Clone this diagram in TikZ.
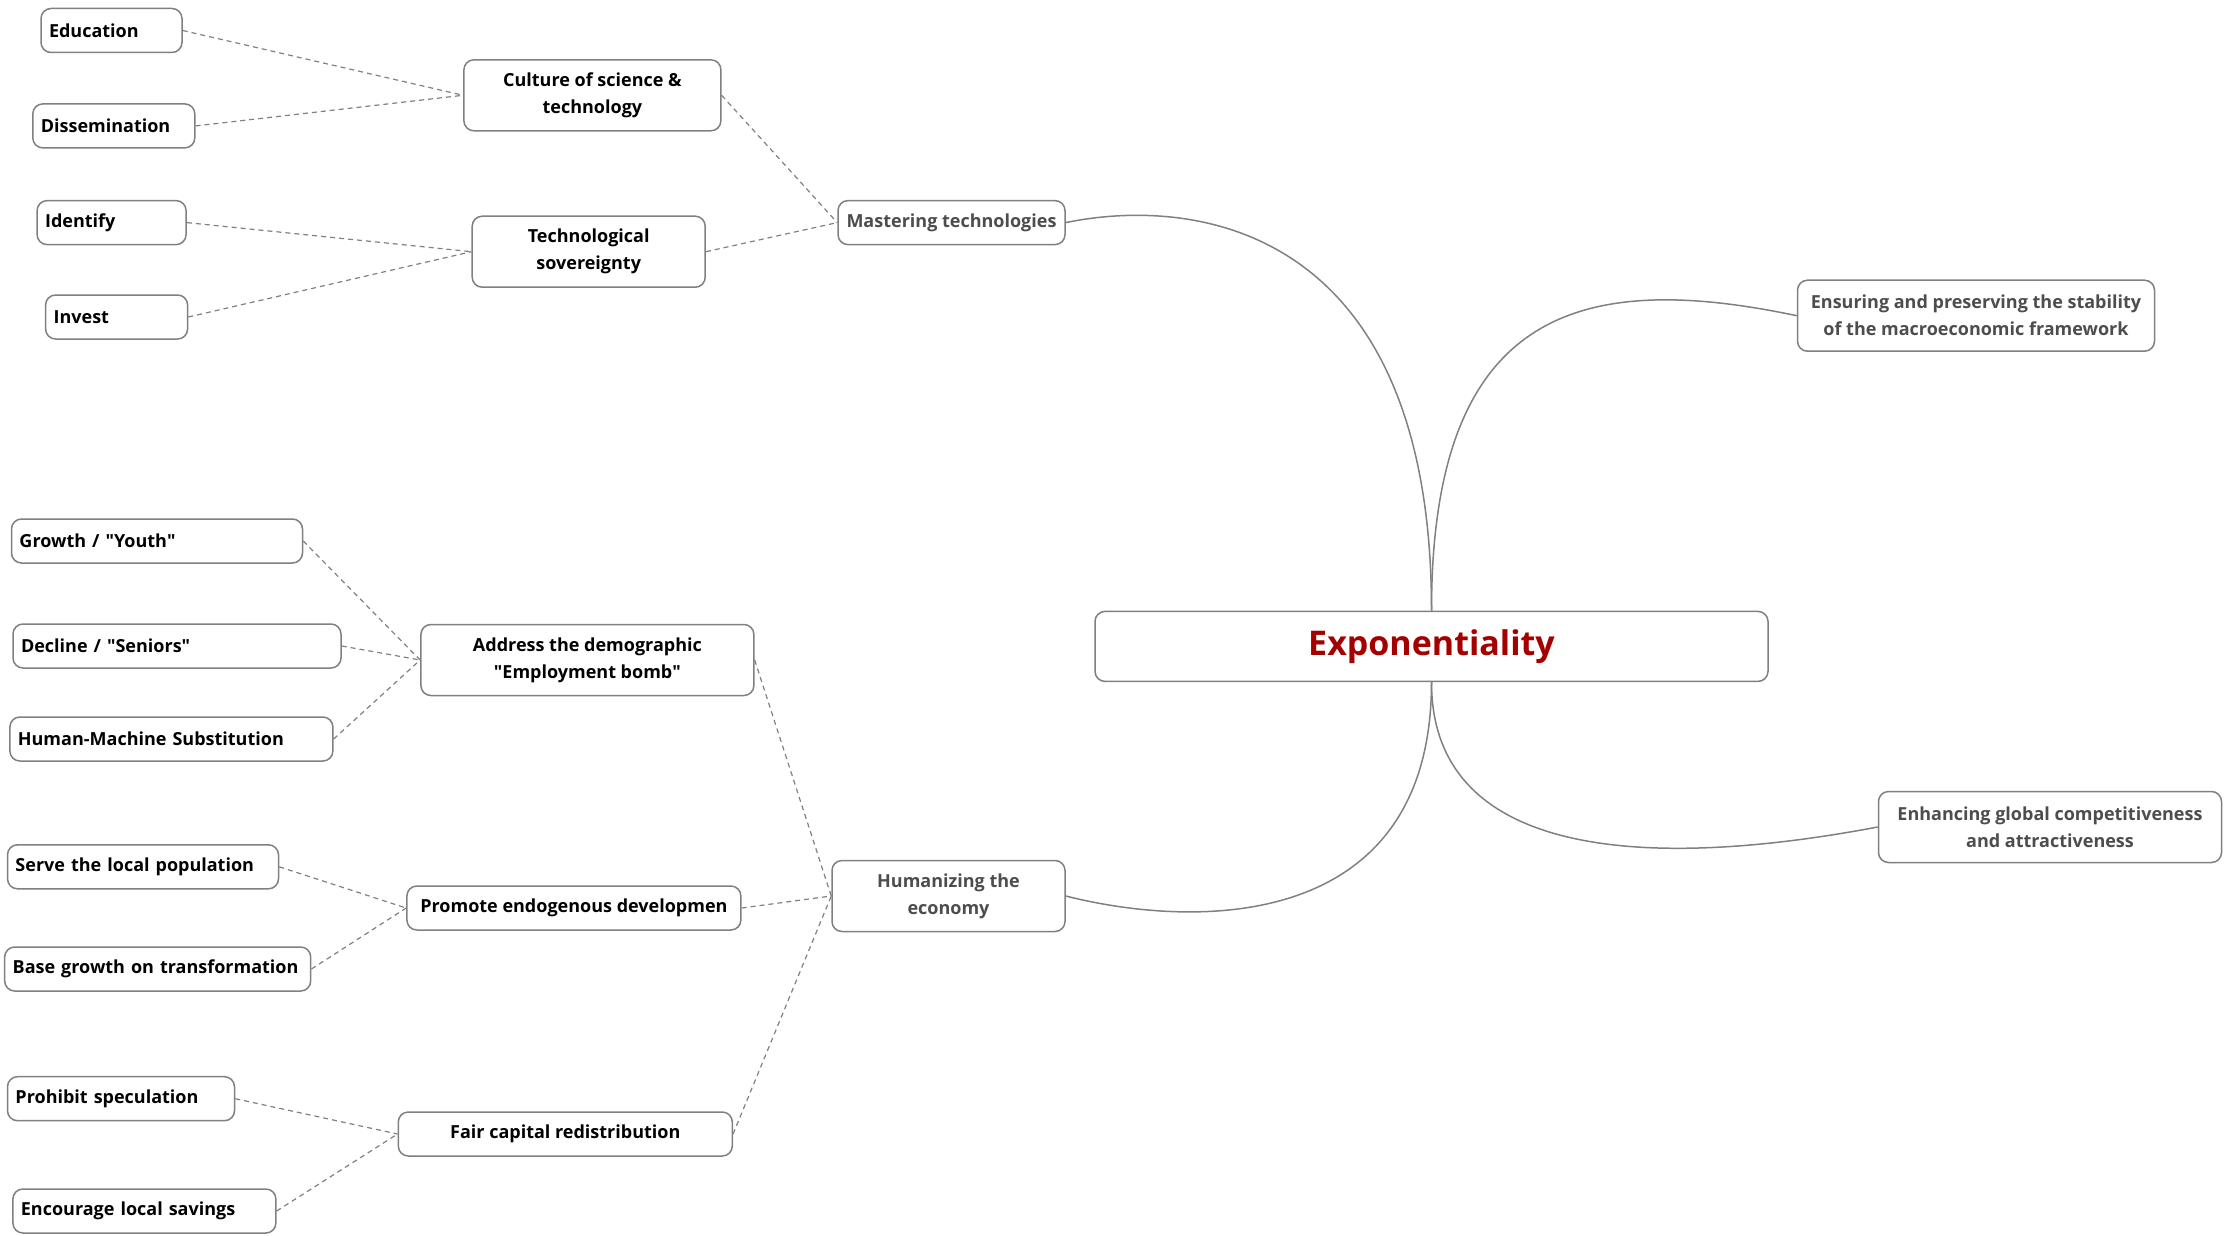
\documentclass[tikz,border=0pt]{standalone}
\usepackage{fontspec}
\setmainfont{Open Sans}
\usetikzlibrary{positioning}
\definecolor{MapGray}{HTML}{808080}
\definecolor{MapDark}{HTML}{4D4D4D}
\definecolor{MapRed}{HTML}{A50000}
\newcommand{\dq}{\textquotedbl}

\begin{document}
\begin{tikzpicture}[
    x=1pt, y=-1pt,
    box/.style={draw=MapGray, line width=1.5pt, rounded corners=10pt, fill=white, inner xsep=8pt, inner ysep=0pt, minimum height=44pt, font=\bfseries\fontsize{18}{27}\selectfont},
    leaf/.style={box, text width=#1, align=left},
    topic/.style={box, minimum width=#1, align=center},
    branch/.style={box, minimum width=#1, align=center, text=MapDark},
    twoline/.style={minimum height=71pt},
    link/.style={draw=MapGray, line width=1.2pt, dash pattern=on 5pt off 4pt},
    stem/.style={draw=MapGray, line width=1.5pt}
]
\useasboundingbox (0,0) rectangle (2230,1236);

\node[box, minimum width=673pt, minimum height=70pt, text=MapRed, font=\bfseries\fontsize{34}{40}\selectfont] (root) at (1431.5,646.4) {Exponentiality};

\node[branch=227pt] (mastering) at (951.5,222.6) {Mastering technologies};
\node[branch=357pt, twoline] (ensuring) at (1976,315.7) {Ensuring and preserving the stability\\of the macroeconomic framework};
\node[branch=343pt, twoline] (enhancing) at (2050,827) {Enhancing global competitiveness\\and attractiveness};
\node[branch=233pt, twoline] (humanizing) at (948.5,896) {Humanizing the\\economy};

\node[topic=257pt, twoline] (culture) at (592.4,95.3) {Culture of science \&\\technology};
\node[topic=233pt, twoline] (sovereignty) at (588.7,251.7) {Technological\\sovereignty};
\node[topic=333pt, twoline] (demography) at (587.4,660) {Address the demographic\\\dq Employment bomb\dq};
\node[topic=334pt] (endogenous) at (573.9,908) {Promote endogenous developmen};
\node[topic=334pt] (redistribution) at (565.3,1134) {Fair capital redistribution};

\node[leaf=125pt] (education) at (111.5,30.5) {Education};
\node[leaf=146pt] (dissemination) at (113.8,125.9) {Dissemination};
\node[leaf=133pt] (identify) at (111.6,222.6) {Identify};
\node[leaf=126pt] (invest) at (116.6,317) {Invest};
\node[leaf=275pt] (youth) at (157,541) {Growth / \dq Youth\dq};
\node[leaf=312pt] (seniors) at (177,646) {Decline / \dq Seniors\dq};
\node[leaf=307pt] (substitution) at (171.4,739) {Human-Machine Substitution};
\node[leaf=255pt] (serve) at (143,866.8) {Serve the local population};
\node[leaf=290pt] (transform) at (157.7,969) {Base growth on transformation};
\node[leaf=211pt] (speculation) at (121,1098.7) {Prohibit speculation};
\node[leaf=247pt] (savings) at (144.4,1211) {Encourage local savings};

\draw[stem] (root.north) .. controls (1431.5,230) and (1200,195) .. (mastering.east);
\draw[stem] (root.north) .. controls (1431.5,310) and (1580,270) .. (ensuring.west);
\draw[stem] (root.south) .. controls (1431.5,930) and (1200,930) .. (humanizing.east);
\draw[stem] (root.south) .. controls (1431.5,860) and (1650,870) .. (enhancing.west);

\draw[link] (education.east) -- (culture.west);
\draw[link] (dissemination.east) -- (culture.west);
\draw[link] (identify.east) -- (sovereignty.west);
\draw[link] (invest.east) -- (sovereignty.west);
\draw[link] (culture.east) -- (mastering.west);
\draw[link] (sovereignty.east) -- (mastering.west);
\draw[link] (youth.east) -- (demography.west);
\draw[link] (seniors.east) -- (demography.west);
\draw[link] (substitution.east) -- (demography.west);
\draw[link] (serve.east) -- (endogenous.west);
\draw[link] (transform.east) -- (endogenous.west);
\draw[link] (speculation.east) -- (redistribution.west);
\draw[link] (savings.east) -- (redistribution.west);
\draw[link] (demography.east) -- (humanizing.west);
\draw[link] (endogenous.east) -- (humanizing.west);
\draw[link] (redistribution.east) -- (humanizing.west);
\end{tikzpicture}
\end{document}
